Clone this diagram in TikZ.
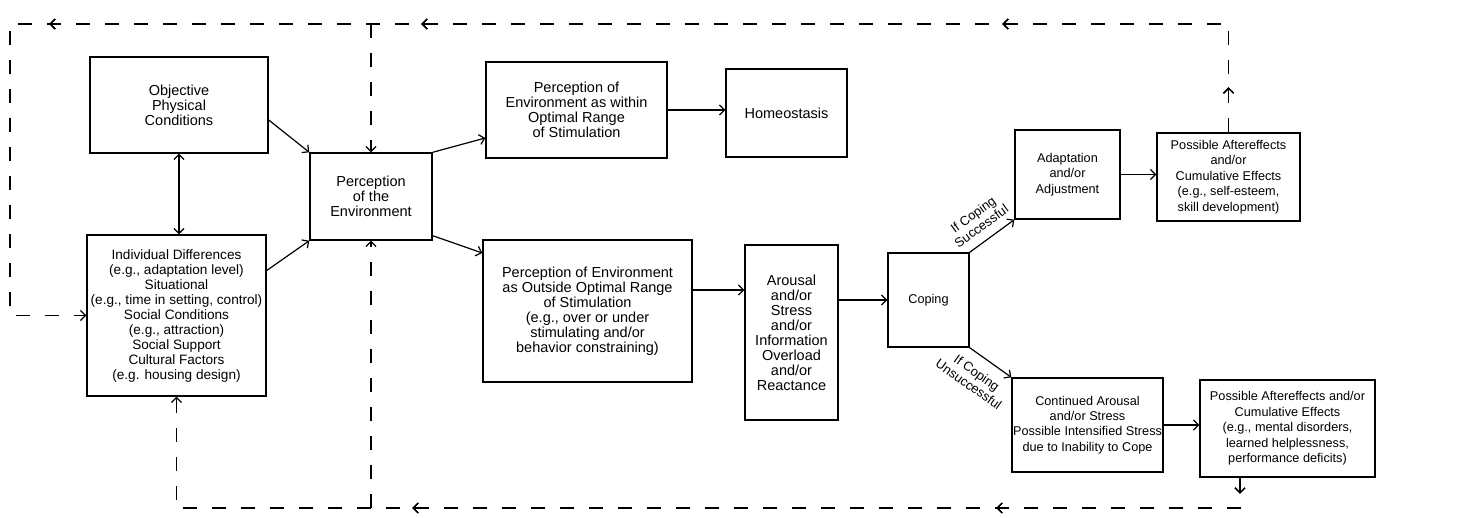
\documentclass[tikz,border=0pt]{standalone}
\usepackage{fontspec}
\setmainfont{Liberation Sans}
\usetikzlibrary{arrows.meta,decorations.markings,calc}
\tikzset{
  box/.style={draw, line width=1.4pt, align=center, inner sep=0pt},
  big/.style={font=\fontsize{14.5}{15}\selectfont},
  mid/.style={font=\fontsize{13.6}{15}\selectfont},
  small/.style={font=\fontsize{12.7}{15.4}\selectfont},
  lbl/.style={font=\fontsize{13}{14}\selectfont, align=center, inner sep=1pt},
  barb/.tip={Straight Barb[length=5pt,width=10pt,line width=1.2pt]},
  conn/.style={line width=1.2pt, -barb},
  both/.style={line width=1.2pt, barb-barb},
  fb/.style={line width=1.2pt, dash pattern=on 14pt off 15pt},
  fbend/.style={fb, -barb},
  midtip/.style={postaction={decorate}, decoration={markings,
     mark=at position #1 with {\arrow{barb}}}},
}
\begin{document}
\begin{tikzpicture}[x=1pt,y=-1pt]
\useasboundingbox (0,0) rectangle (1467,518);
% boxes
\node[box,big,minimum width=178pt,minimum height=96pt] (obj) at (179,105) {Objective\\Physical\\Conditions};
\node[box,mid,minimum width=179pt,minimum height=161pt] (ind) at (176.5,315.5) {Individual Differences\\(e.g., adaptation level)\\Situational\\(e.g., time in setting, control)\\Social Conditions\\(e.g., attraction)\\Social Support\\Cultural Factors\\(e.g. housing design)};
\node[box,big,minimum width=122pt,minimum height=87pt] (pe) at (371,196.5) {Perception\\of the\\Environment};
\node[box,big,minimum width=181pt,minimum height=96pt] (within) at (576.5,110) {Perception of\\Environment as within\\Optimal Range\\of Stimulation};
\node[box,big,minimum width=121pt,minimum height=88pt] (homeo) at (786.5,113) {Homeostasis};
\node[box,big,minimum width=209pt,minimum height=142pt] (outside) at (587.5,311) {Perception of Environment\\as Outside Optimal Range\\of Stimulation\\(e.g., over or under\\stimulating and/or\\behavior constraining)};
\node[box,big,minimum width=93pt,minimum height=175pt] (arousal) at (791.5,332.5) {Arousal\\and/or\\Stress\\and/or\\Information\\Overload\\and/or\\Reactance};
\node[box,small,minimum width=81pt,minimum height=94pt] (coping) at (928.5,300) {Coping};
\node[box,small,minimum width=105pt,minimum height=89pt] (adapt) at (1067.5,174.5) {Adaptation\\and/or\\Adjustment};
\node[box,small,minimum width=143pt,minimum height=88pt] (pa1) at (1228.5,177) {Possible Aftereffects\\and/or\\Cumulative Effects\\(e.g., self-esteem,\\skill development)};
\node[box,small,minimum width=151pt,minimum height=94pt] (cont) at (1087.5,425) {Continued Arousal\\and/or Stress\\Possible Intensified Stress\\due to Inability to Cope};
\node[box,small,minimum width=175pt,minimum height=97pt] (pa2) at (1287.5,428.5) {Possible Aftereffects and/or\\Cumulative Effects\\(e.g., mental disorders,\\learned helplessness,\\performance deficits)};
% solid connectors
\draw[both] (obj.south) -- (obj.south |- ind.north);
\draw[conn] ([yshift=-15pt]obj.east) -- (pe.north west);
\draw[conn] ([yshift=45pt]ind.east) -- (pe.south west);
\draw[conn] (pe.north east) -- ([yshift=-28pt]within.west);
\draw[conn] ([yshift=5pt]pe.south east) -- ([yshift=58pt]outside.west);
\draw[conn] (within.east) -- (within.east -| homeo.west);
\draw[conn] ([yshift=21pt]outside.east) -- ([yshift=21pt]outside.east -| arousal.west);
\draw[conn] (coping.west -| arousal.east) -- (coping.west);
\draw[conn] (coping.north east) -- node[lbl,pos=0.45,above=8pt,sloped] {If Coping\\Successful} (adapt.south west);
\draw[conn] (coping.south east) -- node[lbl,pos=0.4,below=10pt,sloped] {If Coping\\Unsuccessful} (cont.north west);
\draw[conn] (adapt.east) -- (adapt.east -| pa1.west);
\draw[conn] (cont.east) -- (cont.east -| pa2.west);
% feedback loops
\coordinate (tl) at (10,24);
\coordinate (fbr) at ([xshift=-47.5pt]pa2.south);
\coordinate (bb) at (0,508);
\draw[fbend, midtip=45pt, midtip=334.5pt, midtip=915.5pt, midtip=1287.5pt]
  (pa1.north) -- (pa1.north |- tl) -- (tl) -- (tl |- ind.west) -- (ind.west);
\draw[fbend] (pe.north |- tl) -- (pe.north);
\draw[fbend, midtip=16pt, midtip=274pt, midtip=858pt]
  (fbr) -- (fbr |- bb) -- (ind.south |- bb) -- (ind.south);
\draw[fbend] (pe.south |- bb) -- (pe.south);
\end{tikzpicture}
\end{document}
